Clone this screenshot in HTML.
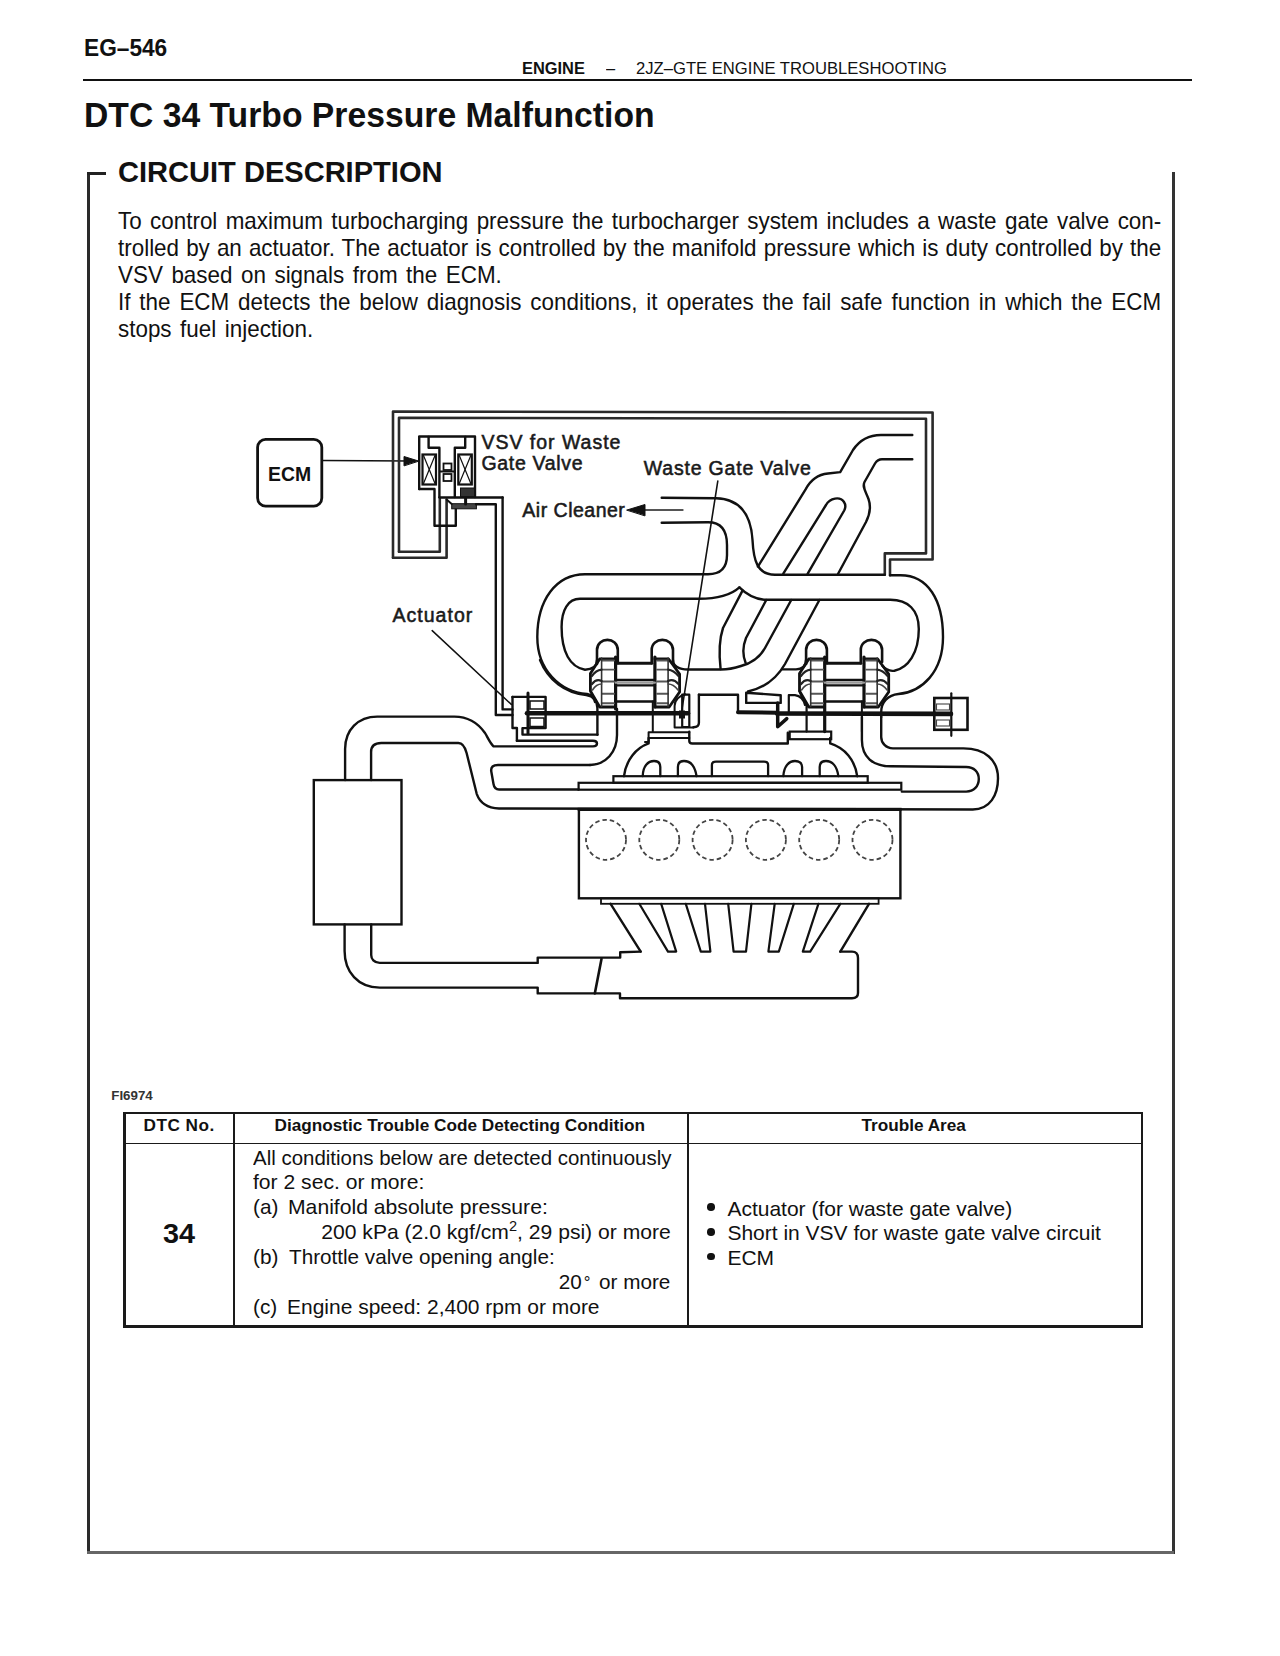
<!DOCTYPE html>
<html><head><meta charset="utf-8">
<style>
html,body{margin:0;padding:0;background:#fff;}
body{width:1280px;height:1656px;position:relative;overflow:hidden;font-family:"Liberation Sans",sans-serif;color:#111;}
.a{position:absolute;white-space:pre;line-height:1;transform-origin:0 0;}
.tb{position:absolute;background:#1a1a1a;}
svg{position:absolute;left:0;top:0;}
</style></head><body>
<div class="a" style="left:84.00px;top:36.28px;font-size:24px;font-weight:bold;transform:scaleX(0.945);">EG–546</div>
<div class="a" style="left:522.00px;top:59.91px;font-size:17px;font-weight:bold;transform:scaleX(0.965);">ENGINE</div>
<div class="a" style="left:606.00px;top:59.91px;font-size:17px;transform:scaleX(0.965);">–</div>
<div class="a" style="left:636.00px;top:59.91px;font-size:17px;transform:scaleX(0.978);">2JZ–GTE ENGINE TROUBLESHOOTING</div>
<div class="tb" style="left:83px;top:79px;width:1109px;height:2px;background:#111;"></div>
<div class="a" style="left:84.00px;top:97.90px;font-size:34.5px;font-weight:bold;transform:scaleX(0.977);">DTC 34 Turbo Pressure Malfunction</div>
<div class="tb" style="left:87px;top:172px;width:2.5px;height:1381px;background:#2a2a2a;"></div>
<div class="tb" style="left:87px;top:172px;width:19px;height:3px;background:#222;"></div>
<div class="tb" style="left:1171.5px;top:172px;width:3px;height:1382px;background:#333;"></div>
<div class="tb" style="left:87px;top:1550.5px;width:1087px;height:3px;background:#666;"></div>
<div class="a" style="left:117.50px;top:157.03px;font-size:29.5px;font-weight:bold;transform:scaleX(0.985);">CIRCUIT DESCRIPTION</div>
<div class="a" style="left:118.30px;top:209.62px;font-size:23.6px;transform:scaleX(0.95);word-spacing:2.26px;">To control maximum turbocharging pressure the turbocharger system includes a waste gate valve con-</div>
<div class="a" style="left:118.30px;top:236.72px;font-size:23.6px;transform:scaleX(0.95);word-spacing:0.90px;">trolled by an actuator. The actuator is controlled by the manifold pressure which is duty controlled by the</div>
<div class="a" style="left:118.30px;top:263.72px;font-size:23.6px;transform:scaleX(0.95);word-spacing:2.42px;">VSV based on signals from the ECM.</div>
<div class="a" style="left:118.30px;top:290.52px;font-size:23.6px;transform:scaleX(0.95);word-spacing:2.80px;">If the ECM detects the below diagnosis conditions, it operates the fail safe function in which the ECM</div>
<div class="a" style="left:118.30px;top:317.52px;font-size:23.6px;transform:scaleX(0.95);word-spacing:2.42px;">stops fuel injection.</div>
<svg width="1280" height="1656" viewBox="0 0 1280 1656">
<rect x="257.6" y="439.3" width="64.2" height="66.8" rx="8" stroke="#111" stroke-width="2.8" fill="none"/>
<text transform="translate(268.0,481.3) scale(0.97,1)" font-family="Liberation Sans" font-size="20" font-weight="bold" fill="#111">ECM</text>
<line x1="323" y1="460.6" x2="410" y2="461" stroke="#111" stroke-width="1.5" stroke-linecap="round"/>
<path d="M418.5,461 L404,456.5 L404,465.5 Z" stroke="#111" stroke-width="1" fill="#111" stroke-linejoin="round" stroke-linecap="round" />
<path d="M393,557.8 L393,411.5 L932.6,412.5 L932.6,559.5 L890,559.5 L890,575.2" stroke="#2a2a2a" stroke-width="2.6" fill="none" stroke-linejoin="round" stroke-linecap="round" />
<path d="M399,551.7 L399,417.8 L926,418.8 L926,553.4 L884.8,553.4 L884.8,574.7" stroke="#2a2a2a" stroke-width="2.6" fill="none" stroke-linejoin="round" stroke-linecap="round" />
<path d="M393,557.8 L446.6,557.8 L446.6,499.6" stroke="#2a2a2a" stroke-width="2.6" fill="none" stroke-linejoin="round" stroke-linecap="round" />
<path d="M399,551.7 L439.8,551.7 L439.8,498.7" stroke="#2a2a2a" stroke-width="2.6" fill="none" stroke-linejoin="round" stroke-linecap="round" />
<path d="M419.2,489 L419.2,436.5 L475,436.5 L475,497" stroke="#111" stroke-width="2.4" fill="none" stroke-linejoin="round" stroke-linecap="round" />
<path d="M419.2,489 L434.5,489 L434.5,525.8 L455.8,525.8 L455.8,508.8" stroke="#111" stroke-width="2.4" fill="none" stroke-linejoin="round" stroke-linecap="round" />
<rect x="451.7" y="503.7" width="24.7" height="5.1" rx="0" stroke="#111" stroke-width="1" fill="#444"/>
<line x1="446.6" y1="499.6" x2="451.7" y2="504" stroke="#111" stroke-width="2" stroke-linecap="round"/>
<line x1="465.6" y1="497" x2="465.6" y2="504" stroke="#111" stroke-width="3" stroke-linecap="round"/>
<path d="M428.6,437 L428.6,447.8 L439.4,447.8 L439.4,497" stroke="#111" stroke-width="2.4" fill="none" stroke-linejoin="round" stroke-linecap="round" />
<path d="M465.2,437 L465.2,447.8 L454.8,447.8 L454.8,497" stroke="#111" stroke-width="2.4" fill="none" stroke-linejoin="round" stroke-linecap="round" />
<rect x="422.5" y="454.5" width="13.5" height="30" rx="0" stroke="#111" stroke-width="2.2" fill="none"/>
<line x1="423.5" y1="455.5" x2="435.0" y2="483.5" stroke="#111" stroke-width="1.2" stroke-linecap="round"/>
<line x1="435.0" y1="455.5" x2="423.5" y2="483.5" stroke="#111" stroke-width="1.2" stroke-linecap="round"/>
<rect x="458.3" y="454.5" width="13.5" height="30" rx="0" stroke="#111" stroke-width="2.2" fill="none"/>
<line x1="459.3" y1="455.5" x2="470.8" y2="483.5" stroke="#111" stroke-width="1.2" stroke-linecap="round"/>
<line x1="470.8" y1="455.5" x2="459.3" y2="483.5" stroke="#111" stroke-width="1.2" stroke-linecap="round"/>
<rect x="443.5" y="463.5" width="8" height="6.5" rx="0" stroke="#111" stroke-width="1.8" fill="none"/>
<rect x="443.5" y="474" width="8" height="7" rx="0" stroke="#111" stroke-width="1.8" fill="none"/>
<line x1="440" y1="471.5" x2="454" y2="471.5" stroke="#111" stroke-width="2" stroke-linecap="round"/>
<rect x="460.5" y="488" width="14" height="9" rx="0" stroke="#111" stroke-width="1" fill="#333"/>
<line x1="439.4" y1="497.5" x2="502.6" y2="497.5" stroke="#111" stroke-width="2.4" stroke-linecap="round"/>
<path d="M476,504.2 L495.8,504.2 L495.8,715 L512.5,715" stroke="#111" stroke-width="2.4" fill="none" stroke-linejoin="round" stroke-linecap="round" />
<path d="M502.6,497.5 L502.6,709.4 L512.5,709.4" stroke="#111" stroke-width="2.4" fill="none" stroke-linejoin="round" stroke-linecap="round" />
<text transform="translate(481.5,448.7) scale(1.0,1)" font-family="Liberation Sans" font-size="19.5" font-weight="normal" fill="#1a1a1a" letter-spacing="0.98" stroke="#1a1a1a" stroke-width="0.55">VSV for Waste</text>
<text transform="translate(481.5,469.6) scale(1.0,1)" font-family="Liberation Sans" font-size="19.5" font-weight="normal" fill="#1a1a1a" letter-spacing="0.68" stroke="#1a1a1a" stroke-width="0.55">Gate Valve</text>
<text transform="translate(643.8,475.3) scale(1.0,1)" font-family="Liberation Sans" font-size="19.5" font-weight="normal" fill="#1a1a1a" letter-spacing="0.81" stroke="#1a1a1a" stroke-width="0.55">Waste Gate Valve</text>
<text transform="translate(522.3,516.6) scale(1.0,1)" font-family="Liberation Sans" font-size="19.5" font-weight="normal" fill="#1a1a1a" letter-spacing="0.5" stroke="#1a1a1a" stroke-width="0.55">Air Cleaner</text>
<text transform="translate(392.6,622.0) scale(1.0,1)" font-family="Liberation Sans" font-size="19.5" font-weight="normal" fill="#1a1a1a" letter-spacing="1.0" stroke="#1a1a1a" stroke-width="0.55">Actuator</text>
<line x1="644.5" y1="510" x2="682.6" y2="510" stroke="#555" stroke-width="2.2" stroke-linecap="round"/>
<path d="M627,510 L645,504.5 L645,515.5 Z" stroke="#111" stroke-width="1" fill="#111" stroke-linejoin="round" stroke-linecap="round" />
<line x1="432.2" y1="630.6" x2="511.3" y2="704.4" stroke="#111" stroke-width="1.5" stroke-linecap="round"/>
<line x1="717.8" y1="481" x2="681.4" y2="713" stroke="#111" stroke-width="1.6" stroke-linecap="round"/>
<path d="M661.7,497.7 L716,498.3 C740,499 751,515 752.5,540 C753.5,560 757,574.7 775,574.7 L884.8,574.7" stroke="#111" stroke-width="2.4" fill="none" stroke-linejoin="round" stroke-linecap="round" />
<path d="M661.7,522.7 L708,522.3 C722,522.3 727,531 727,545 L727,555 C727,568 720,574.2 708,574.2 L585,574.2 C556,574.2 537.3,600 537.3,637 C537.3,670 560,692 587,694 C592,695 594,698 595,702" stroke="#111" stroke-width="2.4" fill="none" stroke-linejoin="round" stroke-linecap="round" />
<path d="M739.4,587.4 C730,596 717,598.8 698.7,598.8 L580,598.8 C568,598.8 561.6,610 561.6,627 C561.6,652 570,667 585,669.7 C592,669.5 597,666 597,660" stroke="#111" stroke-width="2.4" fill="none" stroke-linejoin="round" stroke-linecap="round" />
<path d="M739.4,587.4 C748,596 756,599.8 767,599.8 L890.3,599.8 C908,599.8 918.8,610 918.8,629 C918.8,653 908,668 894.4,670.7 C889,671.5 885,669 882.2,665.6" stroke="#111" stroke-width="2.4" fill="none" stroke-linejoin="round" stroke-linecap="round" />
<path d="M890,575.2 L900.5,575.2 C928,575.2 943,600 943,637 C943,672 922,692 898.4,694 C888,695 881.2,702 881.2,712 L881.2,717" stroke="#111" stroke-width="2.4" fill="none" stroke-linejoin="round" stroke-linecap="round" />
<path d="M912.3,435 L881,435 C868,435 859,441 853,450 L840.2,472.1 L828,473.5 C818,474.5 810,481 805.6,489.4 L757.9,566.6" stroke="#111" stroke-width="2.4" fill="none" stroke-linejoin="round" stroke-linecap="round" />
<path d="M912.3,459.3 L882,459.3 C878,459.3 876.5,461 875,463.5 L864.5,482 C862,487 866,492 868.5,499 C871,506 870,514 866,522 L838.1,573.7" stroke="#111" stroke-width="2.4" fill="none" stroke-linejoin="round" stroke-linecap="round" />
<path d="M783.3,573.7 L826,505 C830,498 840,496 844,502 C846,505 845.5,508 844.2,510.5 L807.7,573.7" stroke="#111" stroke-width="2.4" fill="none" stroke-linejoin="round" stroke-linecap="round" />
<path d="M742.5,590.6 L723,628 C719,640 719,655 720.6,669" stroke="#111" stroke-width="2.4" fill="none" stroke-linejoin="round" stroke-linecap="round" />
<path d="M766.25,600 L746,638 C742,648 743,656 745.5,662.5" stroke="#111" stroke-width="2.4" fill="none" stroke-linejoin="round" stroke-linecap="round" />
<path d="M791.25,600 L765,648 C760,657 752,663 741,666 C735,668 728,669.5 721,669.5 L688,669.5 C679,669.5 673,666 673,660" stroke="#111" stroke-width="2.4" fill="none" stroke-linejoin="round" stroke-linecap="round" />
<path d="M782.5,669.4 L796,669.4 C802,669.2 806,666 806,660" stroke="#111" stroke-width="2.4" fill="none" stroke-linejoin="round" stroke-linecap="round" />
<path d="M819.4,600 L785,664 C777,678 764,688 748,691.5" stroke="#111" stroke-width="2.4" fill="none" stroke-linejoin="round" stroke-linecap="round" />
<path d="M597,664 L597,650 C597,636.5 617.8,636.5 617.8,650 L617.8,663.2" stroke="#111" stroke-width="2.6" fill="none" stroke-linejoin="round" stroke-linecap="round" />
<path d="M651.7,663.2 L651.7,650 C651.7,636.5 673,636.5 673,650 L673,662" stroke="#111" stroke-width="2.6" fill="none" stroke-linejoin="round" stroke-linecap="round" />
<line x1="617.8" y1="663.2" x2="651.7" y2="663.2" stroke="#111" stroke-width="3" stroke-linecap="round"/>
<path d="M615.6,659 L599.7,659 L590.4,673.6 L590.4,691 L599.7,707 L615.6,707" stroke="#111" stroke-width="2.8" fill="none" stroke-linejoin="round" stroke-linecap="round" />
<path d="M654.9,659 L668.6,659 L679.6,674 L679.6,692 L669.2,707 L654.9,707" stroke="#111" stroke-width="2.8" fill="none" stroke-linejoin="round" stroke-linecap="round" />
<line x1="615.6" y1="657" x2="615.6" y2="709" stroke="#111" stroke-width="3.2" stroke-linecap="round"/>
<line x1="654.9" y1="657" x2="654.9" y2="707" stroke="#111" stroke-width="3.2" stroke-linecap="round"/>
<line x1="602" y1="660.5" x2="614" y2="660.5" stroke="#555" stroke-width="1.9" stroke-linecap="round"/>
<line x1="657" y1="660.5" x2="668" y2="660.5" stroke="#555" stroke-width="1.9" stroke-linecap="round"/>
<line x1="602" y1="669.6" x2="614" y2="669.6" stroke="#555" stroke-width="1.9" stroke-linecap="round"/>
<line x1="657" y1="669.6" x2="668" y2="669.6" stroke="#555" stroke-width="1.9" stroke-linecap="round"/>
<line x1="602" y1="681.5" x2="614" y2="681.5" stroke="#555" stroke-width="1.9" stroke-linecap="round"/>
<line x1="657" y1="681.5" x2="668" y2="681.5" stroke="#555" stroke-width="1.9" stroke-linecap="round"/>
<line x1="602" y1="693.7" x2="614" y2="693.7" stroke="#555" stroke-width="1.9" stroke-linecap="round"/>
<line x1="657" y1="693.7" x2="668" y2="693.7" stroke="#555" stroke-width="1.9" stroke-linecap="round"/>
<line x1="602" y1="703.3" x2="614" y2="703.3" stroke="#555" stroke-width="1.9" stroke-linecap="round"/>
<line x1="657" y1="703.3" x2="668" y2="703.3" stroke="#555" stroke-width="1.9" stroke-linecap="round"/>
<line x1="601.6" y1="658" x2="601.6" y2="706.5" stroke="#333" stroke-width="1.6" stroke-linecap="round"/>
<line x1="668.1" y1="658" x2="668.1" y2="706.5" stroke="#333" stroke-width="1.6" stroke-linecap="round"/>
<path d="M592,676 C594,673 598,670 601.6,669.6" stroke="#222" stroke-width="2.2" fill="none" stroke-linejoin="round" stroke-linecap="round" />
<path d="M592,684 C595,680 598,679 601.6,681" stroke="#222" stroke-width="2.2" fill="none" stroke-linejoin="round" stroke-linecap="round" />
<path d="M592.5,690 C595,686 598,684 601.6,684" stroke="#444" stroke-width="1.6" fill="none" stroke-linejoin="round" stroke-linecap="round" />
<path d="M678.5,676 C676,673 672,670 668.1,669.6" stroke="#222" stroke-width="2.2" fill="none" stroke-linejoin="round" stroke-linecap="round" />
<path d="M678.5,684 C675,680 672,679 668.1,681" stroke="#222" stroke-width="2.2" fill="none" stroke-linejoin="round" stroke-linecap="round" />
<path d="M678,690 C675,686 672,684 668.1,684" stroke="#444" stroke-width="1.6" fill="none" stroke-linejoin="round" stroke-linecap="round" />
<line x1="615.6" y1="680" x2="654.9" y2="680" stroke="#111" stroke-width="2.4" stroke-linecap="round"/>
<line x1="615.6" y1="685.4" x2="654.9" y2="685.4" stroke="#111" stroke-width="2.4" stroke-linecap="round"/>
<line x1="615.6" y1="682.7" x2="654.9" y2="682.7" stroke="#999" stroke-width="2.2" stroke-linecap="round"/>
<line x1="615.6" y1="701.5" x2="654.9" y2="701.5" stroke="#111" stroke-width="2.4" stroke-linecap="round"/>
<line x1="652.8" y1="701.5" x2="652.8" y2="731.6" stroke="#111" stroke-width="2" stroke-linecap="round"/>
<path d="M806.1,664 L806.1,650 C806.1,636.5 826.9,636.5 826.9,650 L826.9,663.2" stroke="#111" stroke-width="2.6" fill="none" stroke-linejoin="round" stroke-linecap="round" />
<path d="M860.8000000000001,663.2 L860.8000000000001,650 C860.8000000000001,636.5 882.1,636.5 882.1,650 L882.1,662" stroke="#111" stroke-width="2.6" fill="none" stroke-linejoin="round" stroke-linecap="round" />
<line x1="826.9" y1="663.2" x2="860.8000000000001" y2="663.2" stroke="#111" stroke-width="3" stroke-linecap="round"/>
<path d="M824.7,659 L808.8000000000001,659 L799.5,673.6 L799.5,691 L808.8000000000001,707 L824.7,707" stroke="#111" stroke-width="2.8" fill="none" stroke-linejoin="round" stroke-linecap="round" />
<path d="M864.0,659 L877.7,659 L888.7,674 L888.7,692 L878.3000000000001,707 L864.0,707" stroke="#111" stroke-width="2.8" fill="none" stroke-linejoin="round" stroke-linecap="round" />
<line x1="824.7" y1="657" x2="824.7" y2="731.6" stroke="#111" stroke-width="3.2" stroke-linecap="round"/>
<line x1="864.0" y1="657" x2="864.0" y2="707" stroke="#111" stroke-width="3.2" stroke-linecap="round"/>
<line x1="811.1" y1="660.5" x2="823.1" y2="660.5" stroke="#555" stroke-width="1.9" stroke-linecap="round"/>
<line x1="866.1" y1="660.5" x2="877.1" y2="660.5" stroke="#555" stroke-width="1.9" stroke-linecap="round"/>
<line x1="811.1" y1="669.6" x2="823.1" y2="669.6" stroke="#555" stroke-width="1.9" stroke-linecap="round"/>
<line x1="866.1" y1="669.6" x2="877.1" y2="669.6" stroke="#555" stroke-width="1.9" stroke-linecap="round"/>
<line x1="811.1" y1="681.5" x2="823.1" y2="681.5" stroke="#555" stroke-width="1.9" stroke-linecap="round"/>
<line x1="866.1" y1="681.5" x2="877.1" y2="681.5" stroke="#555" stroke-width="1.9" stroke-linecap="round"/>
<line x1="811.1" y1="693.7" x2="823.1" y2="693.7" stroke="#555" stroke-width="1.9" stroke-linecap="round"/>
<line x1="866.1" y1="693.7" x2="877.1" y2="693.7" stroke="#555" stroke-width="1.9" stroke-linecap="round"/>
<line x1="811.1" y1="703.3" x2="823.1" y2="703.3" stroke="#555" stroke-width="1.9" stroke-linecap="round"/>
<line x1="866.1" y1="703.3" x2="877.1" y2="703.3" stroke="#555" stroke-width="1.9" stroke-linecap="round"/>
<line x1="810.7" y1="658" x2="810.7" y2="706.5" stroke="#333" stroke-width="1.6" stroke-linecap="round"/>
<line x1="877.2" y1="658" x2="877.2" y2="706.5" stroke="#333" stroke-width="1.6" stroke-linecap="round"/>
<path d="M801.1,676 C803.1,673 807.1,670 810.7,669.6" stroke="#222" stroke-width="2.2" fill="none" stroke-linejoin="round" stroke-linecap="round" />
<path d="M801.1,684 C804.1,680 807.1,679 810.7,681" stroke="#222" stroke-width="2.2" fill="none" stroke-linejoin="round" stroke-linecap="round" />
<path d="M801.6,690 C804.1,686 807.1,684 810.7,684" stroke="#444" stroke-width="1.6" fill="none" stroke-linejoin="round" stroke-linecap="round" />
<path d="M887.6,676 C885.1,673 881.1,670 877.2,669.6" stroke="#222" stroke-width="2.2" fill="none" stroke-linejoin="round" stroke-linecap="round" />
<path d="M887.6,684 C884.1,680 881.1,679 877.2,681" stroke="#222" stroke-width="2.2" fill="none" stroke-linejoin="round" stroke-linecap="round" />
<path d="M887.1,690 C884.1,686 881.1,684 877.2,684" stroke="#444" stroke-width="1.6" fill="none" stroke-linejoin="round" stroke-linecap="round" />
<line x1="824.7" y1="680" x2="864.0" y2="680" stroke="#111" stroke-width="2.4" stroke-linecap="round"/>
<line x1="824.7" y1="685.4" x2="864.0" y2="685.4" stroke="#111" stroke-width="2.4" stroke-linecap="round"/>
<line x1="824.7" y1="682.7" x2="864.0" y2="682.7" stroke="#999" stroke-width="2.2" stroke-linecap="round"/>
<line x1="824.7" y1="701.5" x2="864.0" y2="701.5" stroke="#111" stroke-width="2.4" stroke-linecap="round"/>
<path d="M799.5,691 C801.1,697 805.1,700 806.6,706 L806.6,731.6" stroke="#111" stroke-width="2.2" fill="none" stroke-linejoin="round" stroke-linecap="round" />
<line x1="861.9" y1="701.5" x2="861.9" y2="731.6" stroke="#111" stroke-width="2" stroke-linecap="round"/>
<line x1="527" y1="713.3" x2="688" y2="713.3" stroke="#111" stroke-width="4.6" stroke-linecap="round"/>
<line x1="738" y1="712.2" x2="777" y2="712.8" stroke="#111" stroke-width="4" stroke-linecap="round"/>
<line x1="777" y1="713.5" x2="951" y2="713.9" stroke="#111" stroke-width="4.6" stroke-linecap="round"/>
<path d="M512.5,696.9 L545.6,696.9 L545.6,728.1 L522.5,728.1 L522.5,734.6 L597.5,734.6" stroke="#111" stroke-width="2.4" fill="none" stroke-linejoin="round" stroke-linecap="round" />
<path d="M512.5,696.9 L512.5,728 L516.9,728 L516.9,740.8" stroke="#111" stroke-width="2.4" fill="none" stroke-linejoin="round" stroke-linecap="round" />
<rect x="530" y="701" width="14" height="8" rx="0" stroke="#111" stroke-width="1.5" fill="none"/>
<rect x="530" y="718" width="14" height="8.5" rx="0" stroke="#111" stroke-width="1.5" fill="none"/>
<line x1="528" y1="693" x2="528" y2="733.7" stroke="#111" stroke-width="3" stroke-linecap="round"/>
<rect x="934.3" y="698" width="33.2" height="31.8" rx="0" stroke="#111" stroke-width="2.6" fill="none"/>
<line x1="951.3" y1="693.3" x2="951.3" y2="735.8" stroke="#111" stroke-width="2.2" stroke-linecap="round"/>
<rect x="936.5" y="704" width="13" height="6" rx="0" stroke="#444" stroke-width="1.1" fill="none"/>
<rect x="936.5" y="720" width="13" height="6" rx="0" stroke="#444" stroke-width="1.1" fill="none"/>
<path d="M540,660 C548,680 565,693 586.25,695 C593,696 597.4,700 597.4,708 L597.4,734.7" stroke="#111" stroke-width="2.4" fill="none" stroke-linejoin="round" stroke-linecap="round" />
<path d="M682.2,694.7 L689.3,694.7 L689.3,727 L682.2,727 Z" stroke="#111" stroke-width="2.2" fill="none" stroke-linejoin="round" stroke-linecap="round" />
<rect x="679.5" y="711" width="5" height="7" rx="0" stroke="#111" stroke-width="1" fill="#111"/>
<path d="M685.2,694.2 C679,696 674.6,700 674.6,706 L674.6,727.5 L693.4,727.5" stroke="#111" stroke-width="2" fill="none" stroke-linejoin="round" stroke-linecap="round" />
<path d="M698.9,694.7 L738,694.7 L738,711.5" stroke="#111" stroke-width="2.4" fill="none" stroke-linejoin="round" stroke-linecap="round" />
<path d="M698.9,694.7 L698.9,722.7 C698.9,726 696.5,727.2 693.4,727.2" stroke="#111" stroke-width="2.4" fill="none" stroke-linejoin="round" stroke-linecap="round" />
<path d="M689.3,731.8 L689.3,741 C689.3,742.8 690.5,743.5 692.3,743.5 L787.8,743.5 L787.8,732.8" stroke="#111" stroke-width="2.4" fill="none" stroke-linejoin="round" stroke-linecap="round" />
<path d="M746.2,692.7 L780.7,695.2 L780.7,702.9 L746.2,702.9 Z" stroke="#111" stroke-width="2.4" fill="none" stroke-linejoin="round" stroke-linecap="round" />
<path d="M777.7,703 L777.7,726.7 L786.8,718.6" stroke="#111" stroke-width="3.5" fill="none" stroke-linejoin="round" stroke-linecap="round" />
<path d="M788.8,713 L788.8,695.2 L795,695.2 C801,696 803.5,699 805,705" stroke="#111" stroke-width="2.2" fill="none" stroke-linejoin="round" stroke-linecap="round" />
<path d="M648.6,732.2 L689.3,732.2 M648.6,738 L689.3,738 M648.6,732.2 L648.6,742 M645,742 L648.6,742" stroke="#111" stroke-width="2" fill="none" stroke-linejoin="round" stroke-linecap="round" />
<rect x="789.7" y="731.6" width="41.5" height="7.6" rx="0" stroke="#111" stroke-width="2.2" fill="none"/>
<path d="M624,776.2 C626,760 636,748 648.6,743.4 L648.6,738" stroke="#111" stroke-width="2.4" fill="none" stroke-linejoin="round" stroke-linecap="round" />
<path d="M857.2,776.2 C855,760 845,748 830.2,743.4 L830.2,738" stroke="#111" stroke-width="2.4" fill="none" stroke-linejoin="round" stroke-linecap="round" />
<path d="M642.7,776.2 C643,766 648,761 654,761 C658,761 660.3,763 660.3,767 L660.3,776.2" stroke="#111" stroke-width="2.3" fill="none" stroke-linejoin="round" stroke-linecap="round" />
<path d="M677.9,776.2 L677.9,767 C677.9,763 680,761 684,761 C690,761 695,766 696.6,776.2" stroke="#111" stroke-width="2.3" fill="none" stroke-linejoin="round" stroke-linecap="round" />
<path d="M783.3,776.2 C784,766 789,761 795,761 C799,761 802.1,763 802.1,767 L802.1,776.2" stroke="#111" stroke-width="2.3" fill="none" stroke-linejoin="round" stroke-linecap="round" />
<path d="M819.7,776.2 L819.7,767 C819.7,763 822,761 826,761 C832,761 837,766 838.4,776.2" stroke="#111" stroke-width="2.3" fill="none" stroke-linejoin="round" stroke-linecap="round" />
<path d="M711.9,776.2 L711.9,765 C711.9,762.5 713.5,761.7 716,761.7 L764,761.7 C766.5,761.7 768.1,762.5 768.1,765 L768.1,776.2" stroke="#111" stroke-width="2.3" fill="none" stroke-linejoin="round" stroke-linecap="round" />
<rect x="613.4" y="776.2" width="254.3" height="6.6" rx="0" stroke="#111" stroke-width="2.2" fill="none"/>
<rect x="578.6" y="782.8" width="322.7" height="6.9" rx="0" stroke="#111" stroke-width="2.2" fill="none"/>
<path d="M345.1,780 L345.1,749 C345.1,730 358,716.6 377.2,716.6 L454.4,716.6 C469,716.6 478,723 485,733 C488,738 490,743 493.5,746.4 L593,746.4 C596,746.4 597,745 597,743.5 C597,742 596,740.8 593,740.8 L516.9,740.8" stroke="#111" stroke-width="2.4" fill="none" stroke-linejoin="round" stroke-linecap="round" />
<path d="M371.1,780 L371.1,752 C371.1,746 375,743 381.3,743 L458.4,743 C463,743 465,747 466.6,753 L476.7,793.8 C480,803 488,808 499,808.5 L972.8,809.5 C990,809.5 998,795 998,778.3 C998,760 985,748.4 963.5,748.4 L893,748.4 C886,748.4 881.2,743 881.2,737 L881.2,717" stroke="#111" stroke-width="2.4" fill="none" stroke-linejoin="round" stroke-linecap="round" />
<path d="M578.6,789.5 L499,789.5 C495,789.5 494,787 493.5,784 L491.2,771 C490.8,767 493,765 498,765 L590,765" stroke="#111" stroke-width="2.4" fill="none" stroke-linejoin="round" stroke-linecap="round" />
<path d="M901.8,791.6 L966.2,791.6 C974,791.6 978.8,786 978.8,779 C978.8,772 974,767 966.2,767 L890.5,766.3 C873,766.3 861.9,757 861.9,740 L861.9,717" stroke="#111" stroke-width="2.4" fill="none" stroke-linejoin="round" stroke-linecap="round" />
<path d="M590,765 C606,764.5 617,752 617,735 L617,709" stroke="#111" stroke-width="2.4" fill="none" stroke-linejoin="round" stroke-linecap="round" />
<rect x="578.9" y="809" width="321.5" height="89.3" rx="0" stroke="#111" stroke-width="2.4" fill="none"/>
<line x1="578.9" y1="809.6" x2="900.4" y2="809.6" stroke="#111" stroke-width="3" stroke-linecap="round"/>
<circle cx="606.0" cy="839.8" r="20" stroke="#444" stroke-width="1.8" fill="none" stroke-dasharray="4.5 3"/>
<circle cx="659.3" cy="839.8" r="20" stroke="#444" stroke-width="1.8" fill="none" stroke-dasharray="4.5 3"/>
<circle cx="712.6" cy="839.8" r="20" stroke="#444" stroke-width="1.8" fill="none" stroke-dasharray="4.5 3"/>
<circle cx="765.9" cy="839.8" r="20" stroke="#444" stroke-width="1.8" fill="none" stroke-dasharray="4.5 3"/>
<circle cx="819.2" cy="839.8" r="20" stroke="#444" stroke-width="1.8" fill="none" stroke-dasharray="4.5 3"/>
<circle cx="872.5" cy="839.8" r="20" stroke="#444" stroke-width="1.8" fill="none" stroke-dasharray="4.5 3"/>
<rect x="601" y="898.3" width="277.6" height="5.5" rx="0" stroke="#111" stroke-width="1.8" fill="none"/>
<path d="M610.6,903.8 L640.7,951.6" stroke="#111" stroke-width="2.4" fill="none" stroke-linejoin="round" stroke-linecap="round" />
<path d="M869,903.8 L840.3,951.6" stroke="#111" stroke-width="2.4" fill="none" stroke-linejoin="round" stroke-linecap="round" />
<path d="M639.3,903.8 L668,951.6 L676.2,951.6 L661.2,903.8" stroke="#111" stroke-width="2.2" fill="none" stroke-linejoin="round" stroke-linecap="round" />
<path d="M685.8,903.8 L700.8,951.6 L710.4,951.6 L705,903.8" stroke="#111" stroke-width="2.2" fill="none" stroke-linejoin="round" stroke-linecap="round" />
<path d="M728.2,903.8 L733.6,951.6 L746,951.6 L751.4,903.8" stroke="#111" stroke-width="2.2" fill="none" stroke-linejoin="round" stroke-linecap="round" />
<path d="M774.7,903.8 L768.4,951.6 L778.8,951.6 L793.8,903.8" stroke="#111" stroke-width="2.2" fill="none" stroke-linejoin="round" stroke-linecap="round" />
<path d="M818.4,903.8 L802.8,951.6 L810.2,951.6 L840.3,903.8" stroke="#111" stroke-width="2.2" fill="none" stroke-linejoin="round" stroke-linecap="round" />
<path d="M640.7,951.6 L620.2,952.3 L620.2,957.6 L537.7,957.6 L537.7,962.9 L379.7,962.9 C374,962.9 371.2,959 371.2,955 L371.2,924.4" stroke="#111" stroke-width="2.4" fill="none" stroke-linejoin="round" stroke-linecap="round" />
<path d="M840.3,951.6 L852,951.6 C856,951.6 858,954 858,958 L858,993 C858,997 856,998.2 852,998.2 L620,998.2 L620,993.4 L537.7,993.4 L537.7,987.6 L379.7,987.6 C358,987.6 344.6,972 344.6,951 L344.6,924.4" stroke="#111" stroke-width="2.4" fill="none" stroke-linejoin="round" stroke-linecap="round" />
<line x1="601.5" y1="958.9" x2="594.8" y2="993.4" stroke="#111" stroke-width="2.6" stroke-linecap="round"/>
<rect x="313.8" y="780.1" width="87.7" height="144.3" rx="0" stroke="#111" stroke-width="2.4" fill="none"/>
</svg>
<div class="a" style="left:111.30px;top:1088.94px;font-size:13.3px;font-weight:bold;color:#333;">FI6974</div>
<div class="tb" style="left:123px;top:1111.5px;width:1020px;height:2.5px;"></div>
<div class="tb" style="left:123px;top:1142.5px;width:1020px;height:1.8px;"></div>
<div class="tb" style="left:123px;top:1325.3px;width:1020px;height:2.3px;"></div>
<div class="tb" style="left:123.3px;top:1111.5px;width:2.5px;height:216px;"></div>
<div class="tb" style="left:233.2px;top:1111.5px;width:2px;height:216px;"></div>
<div class="tb" style="left:687px;top:1111.5px;width:2px;height:216px;"></div>
<div class="tb" style="left:1141px;top:1111.5px;width:2.3px;height:216px;"></div>
<div class="a" style="left:143.50px;top:1117.44px;font-size:17.2px;font-weight:bold;letter-spacing:0.5px;">DTC No.</div>
<div class="a" style="left:274.50px;top:1117.44px;font-size:17.2px;font-weight:bold;">Diagnostic Trouble Code Detecting Condition</div>
<div class="a" style="left:861.50px;top:1117.44px;font-size:17.2px;font-weight:bold;">Trouble Area</div>
<div class="a" style="left:163.00px;top:1219.80px;font-size:28px;font-weight:bold;transform:scaleX(1.03);">34</div>
<div class="a" style="left:252.60px;top:1146.82px;font-size:21px;transform:scaleX(0.974);">All conditions below are detected continuously</div>
<div class="a" style="left:252.60px;top:1170.72px;font-size:21px;transform:scaleX(1.005);">for 2 sec. or more:</div>
<div class="a" style="left:252.80px;top:1195.92px;font-size:21px;transform:scaleX(0.99);">(a)</div>
<div class="a" style="left:287.60px;top:1195.92px;font-size:21px;transform:scaleX(1.007);">Manifold absolute pressure:</div>
<div class="a" style="left:252.80px;top:1245.72px;font-size:21px;transform:scaleX(0.99);">(b)</div>
<div class="a" style="left:289.30px;top:1245.72px;font-size:21px;transform:scaleX(0.985);">Throttle valve opening angle:</div>
<div class="a" style="left:252.80px;top:1295.72px;font-size:21px;transform:scaleX(0.99);">(c)</div>
<div class="a" style="left:287.10px;top:1295.72px;font-size:21px;transform:scaleX(0.999);">Engine speed: 2,400 rpm or more</div>
<div class="a" style="right:609.20px;top:1220.92px;font-size:21px;transform:scaleX(1.005);transform-origin:100% 0;">200 kPa (2.0 kgf/cm<span style="font-size:14.5px;position:relative;top:-7.5px;">2</span>, 29 psi) or more</div>
<div class="a" style="right:609.20px;top:1270.82px;font-size:21px;transform:scaleX(0.985);transform-origin:100% 0;">20<span style="font-size:17px;position:relative;top:-1px;padding-left:2px;padding-right:3px;">°</span> or more</div>
<div style="position:absolute;left:707.35px;top:1203.30px;width:7.6px;height:7.6px;border-radius:50%;background:#111;"></div>
<div class="a" style="left:727.40px;top:1197.62px;font-size:21px;">Actuator (for waste gate valve)</div>
<div style="position:absolute;left:707.35px;top:1228.10px;width:7.6px;height:7.6px;border-radius:50%;background:#111;"></div>
<div class="a" style="left:727.40px;top:1222.42px;font-size:21px;">Short in VSV for waste gate valve circuit</div>
<div style="position:absolute;left:707.35px;top:1252.90px;width:7.6px;height:7.6px;border-radius:50%;background:#111;"></div>
<div class="a" style="left:727.40px;top:1247.22px;font-size:21px;">ECM</div>
</body></html>
